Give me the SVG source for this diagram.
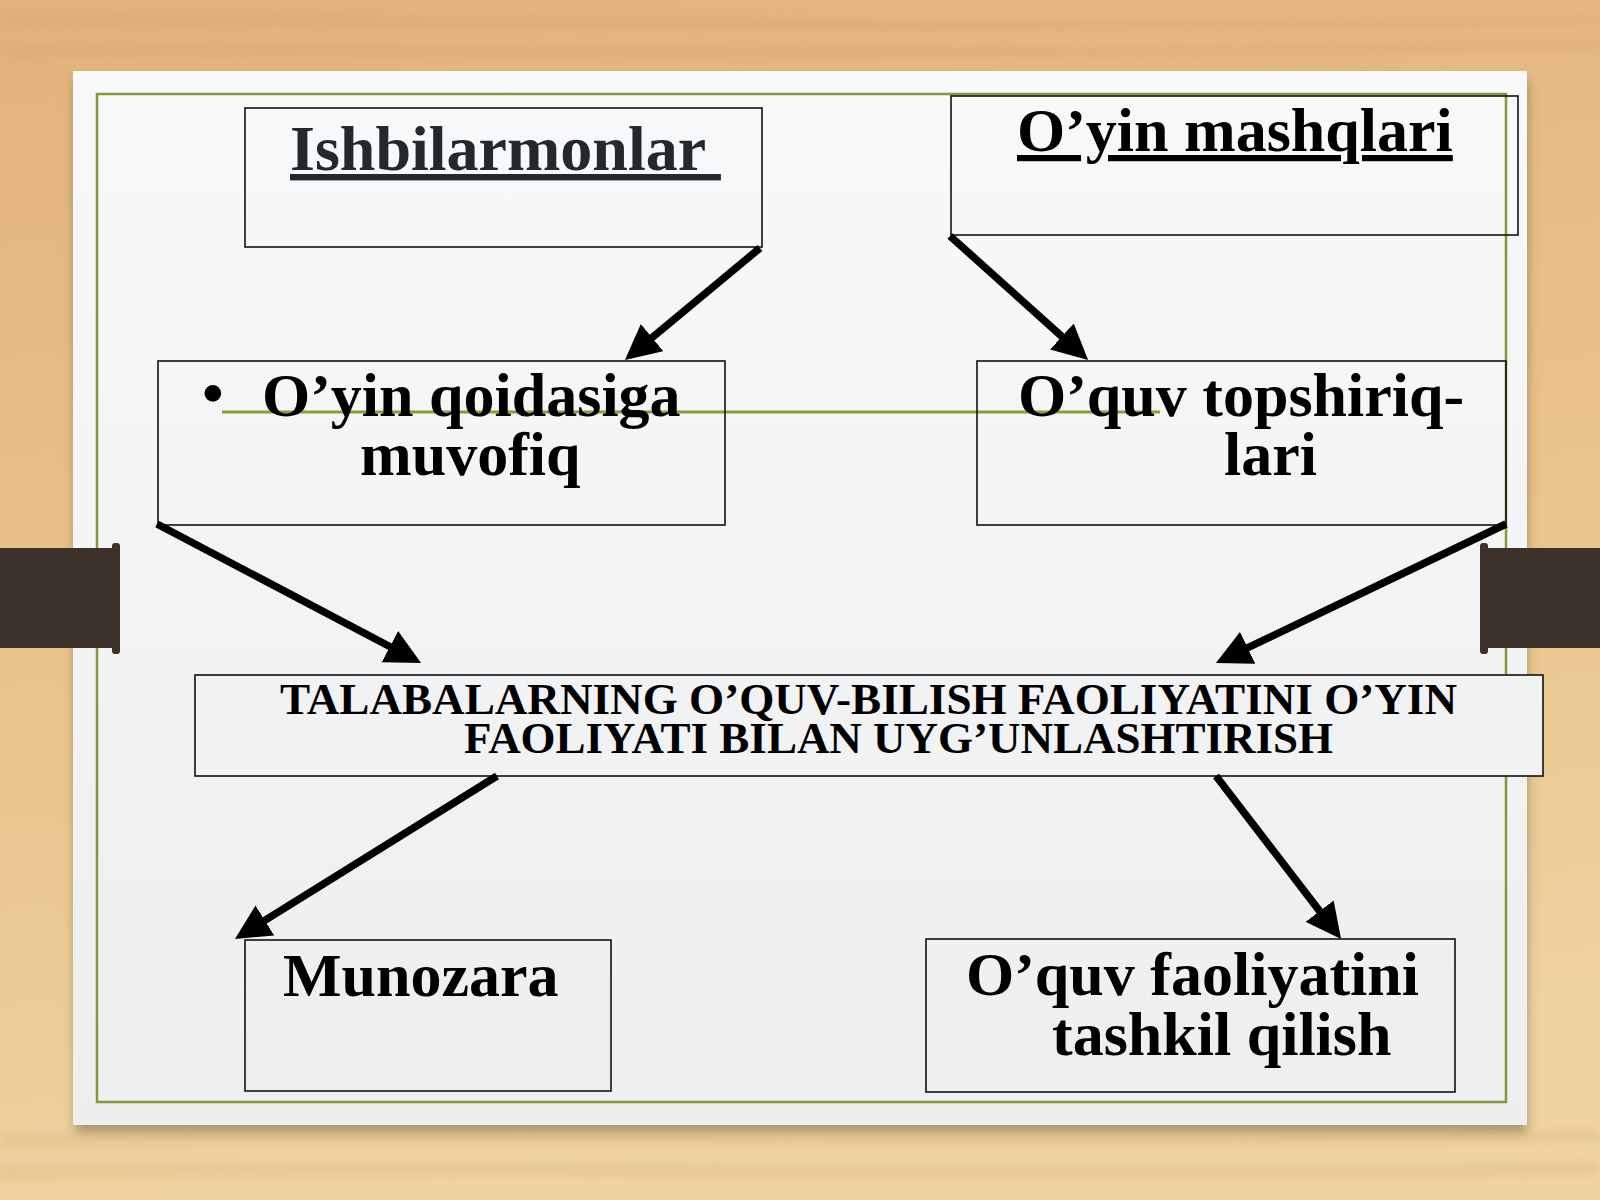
<svg xmlns="http://www.w3.org/2000/svg" width="1600" height="1200" viewBox="0 0 1600 1200">
  <defs>
    <linearGradient id="wood" x1="0" y1="0" x2="0.2" y2="1">
      <stop offset="0" stop-color="#e1b37b"/>
      <stop offset="0.35" stop-color="#e6bd85"/>
      <stop offset="0.7" stop-color="#ebc891"/>
      <stop offset="1" stop-color="#efd3a0"/>
    </linearGradient>
    <linearGradient id="paper" x1="0" y1="0" x2="0" y2="1">
      <stop offset="0" stop-color="#f8f9fa"/>
      <stop offset="1" stop-color="#eceef0"/>
    </linearGradient>
    <filter id="shadow" x="-5%" y="-5%" width="110%" height="115%">
      <feGaussianBlur stdDeviation="6"/>
    </filter>
    <filter id="soft" x="-5%" y="-50%" width="110%" height="200%">
      <feGaussianBlur stdDeviation="5"/>
    </filter>
    <marker id="arrow" viewBox="0 0 10 10" refX="6" refY="5" markerWidth="4.7" markerHeight="4.7" markerUnits="strokeWidth" orient="auto">
      <path d="M0,0 L10,5 L0,10 z" fill="#000"/>
    </marker>
  </defs>
  <style>
    .box { fill: none; stroke: #111; stroke-width: 1.6; }
    .lbl { font-family: "Liberation Serif", "Times New Roman", serif; font-weight: bold; font-size: 62px; fill: #000; }
    .mid { font-family: "Liberation Serif", "Times New Roman", serif; font-weight: bold; font-size: 45px; fill: #000; }
    .conn line { stroke: #000; stroke-width: 7.5; marker-end: url(#arrow); }
    .bar { fill: #3d3229; }
  </style>

  <!-- wood background -->
  <rect x="0" y="0" width="1600" height="1200" fill="url(#wood)"/>
  <g opacity="0.22" stroke="#c8935a" stroke-width="8" fill="none" filter="url(#soft)">
    <path d="M0,22 C400,14 900,34 1600,20"/>
    <path d="M0,52 C500,46 1000,60 1600,44"/>
    <path d="M0,1140 C500,1133 1000,1147 1600,1135"/>
    <path d="M0,1172 C600,1164 1100,1180 1600,1168"/>
  </g>

  <!-- slide -->
  <rect x="75" y="80" width="1452" height="1052" fill="#6b5a45" opacity="0.55" filter="url(#shadow)"/>
  <rect x="73" y="71" width="1454" height="1054" fill="url(#paper)"/>
  <rect x="97" y="94" width="1409" height="1008" fill="none" stroke="#7f9a3a" stroke-width="2.5"/>
  <line x1="222" y1="412" x2="1160" y2="412" stroke="#86a034" stroke-width="3"/>

  <!-- side bars -->
  <rect class="bar" x="0" y="548" width="116" height="100"/>
  <rect class="bar" x="112" y="543" width="8" height="111" rx="3"/>
  <rect class="bar" x="1484" y="548" width="116" height="100"/>
  <rect class="bar" x="1480" y="543" width="8" height="111" rx="3"/>

  <!-- nodes -->
  <g id="node-ishbilarmonlar">
    <rect class="box" x="245" y="108" width="517" height="139"/>
    <text class="lbl" x="290" y="170" style="fill:#23282d;font-size:64px;white-space:pre" text-decoration="underline" xml:space="preserve">Ishbilarmonlar </text>
  </g>
  <g id="node-oyin-mashqlari">
    <rect class="box" x="951" y="96" width="567" height="139"/>
    <text class="lbl" x="1017" y="151" text-decoration="underline">O’yin mashqlari</text>
  </g>
  <g id="node-oyin-qoidasiga">
    <rect class="box" x="158" y="361" width="567" height="164"/>
    <text class="lbl" x="202" y="414">•</text>
    <text class="lbl" x="262" y="416">O’yin qoidasiga</text>
    <text class="lbl" x="360" y="475">muvofiq</text>
  </g>
  <g id="node-oquv-topshiriqlari">
    <rect class="box" x="977" y="361" width="529" height="164"/>
    <text class="lbl" x="1018" y="416">O’quv topshiriq-</text>
    <text class="lbl" x="1224" y="475">lari</text>
  </g>
  <g id="node-central">
    <rect class="box" x="195" y="675" width="1348" height="101" style="fill:#f1f2f4"/>
    <text class="mid" x="280" y="714" textLength="1177" lengthAdjust="spacingAndGlyphs">TALABALARNING O’QUV-BILISH FAOLIYATINI O’YIN</text>
    <text class="mid" x="464" y="753" textLength="869" lengthAdjust="spacingAndGlyphs">FAOLIYATI BILAN UYG’UNLASHTIRISH</text>
  </g>
  <g id="node-munozara">
    <rect class="box" x="245" y="940" width="366" height="151"/>
    <text class="lbl" x="283" y="996">Munozara</text>
  </g>
  <g id="node-oquv-faoliyatini">
    <rect class="box" x="926" y="939" width="529" height="153"/>
    <text class="lbl" x="966" y="995">O’quv faoliyatini</text>
    <text class="lbl" x="1052" y="1055">tashkil qilish</text>
  </g>

  <!-- connectors -->
  <g id="connectors" class="conn">
    <line x1="760" y1="248" x2="635.8" y2="351.1"/>
    <line x1="950" y1="236" x2="1077.6" y2="350.6"/>
    <line x1="157" y1="524" x2="408.6" y2="656.5"/>
    <line x1="1506" y1="524" x2="1228.6" y2="656.9"/>
    <line x1="497" y1="776" x2="246.9" y2="931.6"/>
    <line x1="1216" y1="776" x2="1332.5" y2="927.9"/>
  </g>
</svg>
